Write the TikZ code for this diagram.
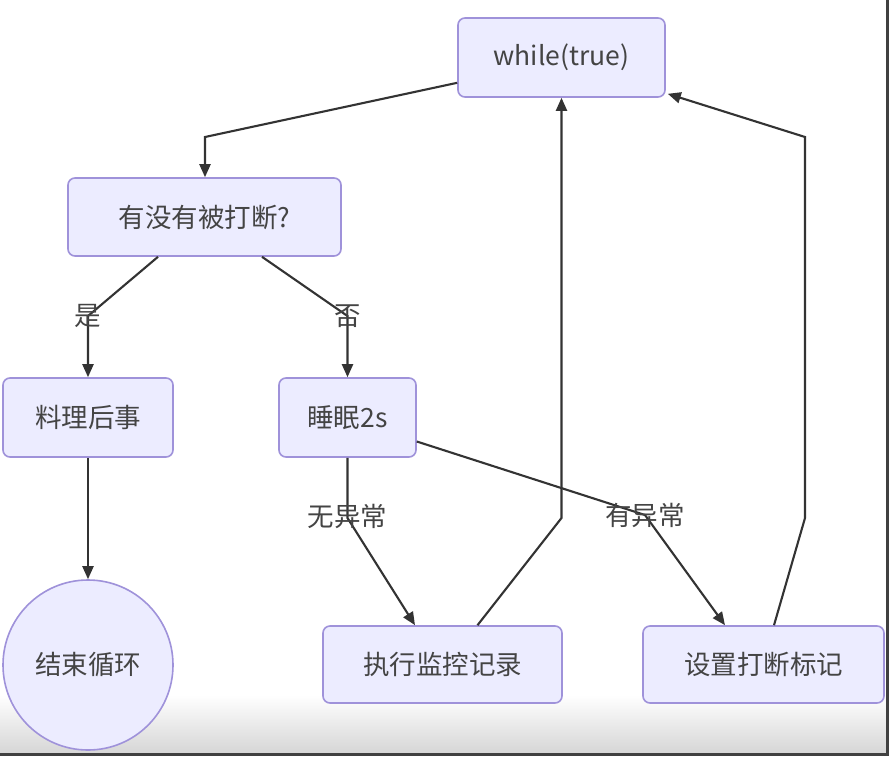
\documentclass[tikz,border=0pt]{standalone}
\usepackage{fontspec}
\setmainfont{Noto Sans CJK SC}
\usetikzlibrary{arrows.meta,calc}
\definecolor{nodefill}{HTML}{ECECFF}
\definecolor{nodeline}{HTML}{9F92DA}
\definecolor{ink}{HTML}{333333}
\definecolor{txt}{HTML}{444444}
\tikzset{
  box/.style={draw=nodeline, fill=nodefill, line width=1.6pt, rounded corners=7pt,
    text=txt, font=\fontsize{26.5}{30}\selectfont, inner sep=0pt},
  roundnode/.style={draw=nodeline, fill=nodefill, line width=1.6pt, circle,
    text=txt, font=\fontsize{26.5}{30}\selectfont, inner sep=0pt},
  arr/.style={draw=ink, line width=2.1pt, -{Triangle[length=13pt,width=11pt]}},
  lab/.style={text=txt, font=\fontsize{26.5}{30}\selectfont, inner sep=0pt}
}
\begin{document}
\begin{tikzpicture}[x=1pt,y=-1pt]
\useasboundingbox (0,0) rectangle (889,756);
\fill[white] (0,0) rectangle (889,756);
\shade[top color=white, bottom color=black!16] (0,695) rectangle (889,753);
\fill[black!75] (0,753) rectangle (889,756);
\fill[black!75] (886,0) rectangle (889,756);

\node[box, minimum width=207pt, minimum height=79pt] (wh) at (561.5,57.5) {while(true)};
\node[box, minimum width=273pt, minimum height=78pt] (q) at (204.5,217) {有没有被打断?};
\node[box, minimum width=170pt, minimum height=79pt] (aft) at (88,417.5) {料理后事};
\node[box, minimum width=137pt, minimum height=79pt] (sl) at (347.5,417.5) {睡眠2s};
\node[roundnode, minimum size=170pt] (end) at (88,665) {结束循环};
\node[box, minimum width=239pt, minimum height=77pt] (ex) at (442.5,664.5) {执行监控记录};
\node[box, minimum width=241pt, minimum height=77pt] (sf) at (763.5,664.5) {设置打断标记};

\coordinate (c1) at (205,137);
\coordinate (c2) at (88,316);
\coordinate (c3) at (347.5,316);
\coordinate (c4) at (347.5,518);
\coordinate (c5) at (645,515);
\coordinate (c6) at (561.5,518);
\coordinate (c7) at (805,518);
\coordinate (c8) at (805,137);

\draw[arr] ($(wh.south west)+(0,-15)$) -- (c1) -- (q.north -| c1);
\draw[arr] ($(q.south)+(-46.5,0)$) -- (c2) -- (aft.north);
\draw[arr] ($(q.south)+(57.5,0)$) -- (c3) -- (sl.north);
\draw[arr] (aft.south) -- (end.north);
\draw[arr] (sl.south) -- (c4) -- ($(ex.north)+(-27.5,0)$);
\draw[arr] ($(sl.east)+(0,24)$) -- (c5) -- ($(sf.north)+(-38.5,0)$);
\draw[arr] ($(ex.north)+(35,0)$) -- (c6) -- (wh.south);
\draw[arr] ($(sf.north)+(10.5,0)$) -- (c7) -- (c8) -- ($(wh.south east)+(2,-4)$);

\node[lab] (l1) at (c2) {是};
\node[lab] (l2) at (c3) {否};
\node[lab] (l3) at (347.5,516) {无异常};
\node[lab] (l4) at (c5) {有异常};
\end{tikzpicture}
\end{document}
